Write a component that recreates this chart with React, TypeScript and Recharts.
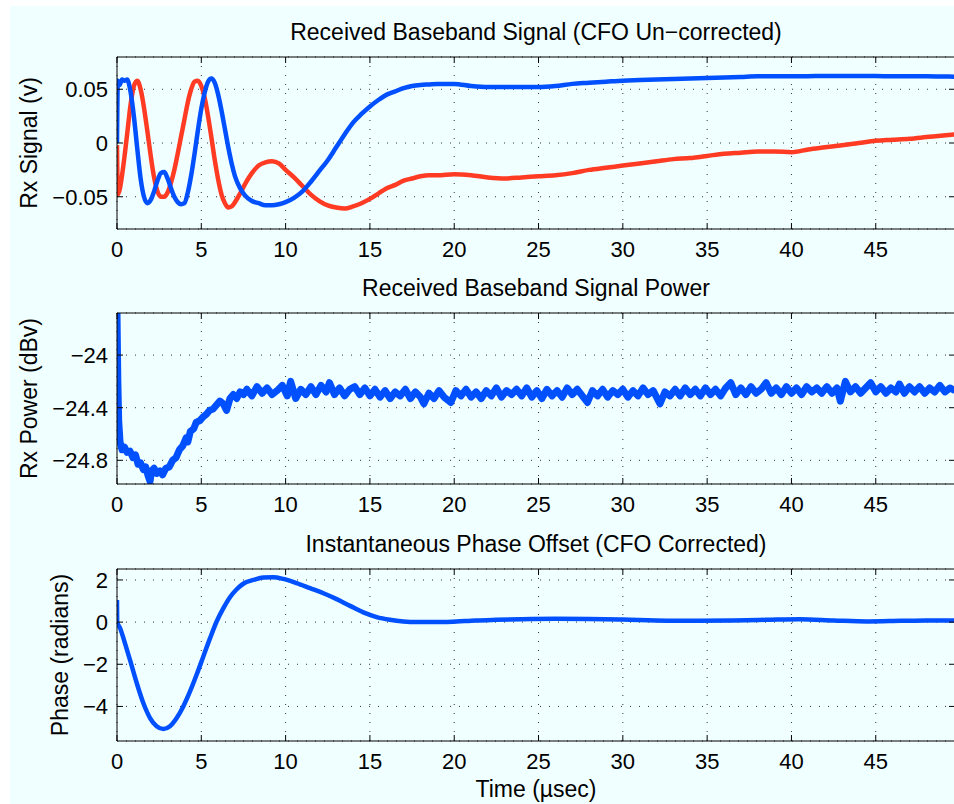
import React from 'react';
import { LineChart, Line, XAxis, YAxis, CartesianGrid, Label } from 'recharts';

const FONT = "'Liberation Sans', Arial, Helvetica, sans-serif";
const BLUE = '#0050ff';
const RED = '#ff3b24';
const BG = '#f0ffff';

// shared time axis (usec)
const timeTicks = [0, 5, 10, 15, 20, 25, 30, 35, 40, 45];
const timeDomain = [0, 49.7];

// Panel 1: received baseband signal (I = red, Q = blue)
const sigTime = [
  0, 0.05, 0.15, 0.3, 0.45, 0.6, 0.8, 1.0, 1.2, 1.4,
  1.6, 1.8, 2.0, 2.2, 2.4, 2.6, 2.8, 3.0, 3.2, 3.4,
  3.6, 3.8, 4.0, 4.2, 4.4, 4.6, 4.8, 5.0, 5.2, 5.4,
  5.6, 5.8, 6.0, 6.2, 6.4, 6.6, 6.8, 7.0, 7.3, 7.6,
  8.0, 8.4, 8.8, 9.2, 9.6, 10.0, 10.5, 11.0, 11.5, 12.0,
  12.5, 13.0, 13.5, 14.0, 14.5, 15.0, 15.5, 16.0, 16.5, 17.0,
  17.5, 18.0, 18.5, 19.0, 20, 21, 22, 23, 24, 25,
  26, 27, 28, 29, 30, 31, 32, 33, 34, 35,
  36, 37, 38, 39, 40, 41, 42, 43, 44, 45,
  46, 47, 48, 49, 49.7,
];
const sigInPhase = [
  -0.002, -0.048, -0.044, -0.030, -0.012, 0.008, 0.035, 0.053, 0.058, 0.050,
  0.033, 0.011, -0.012, -0.032, -0.045, -0.050, -0.050, -0.046, -0.037, -0.025,
  -0.010, 0.006, 0.022, 0.038, 0.050, 0.057, 0.058, 0.053, 0.042, 0.025,
  0.005, -0.016, -0.034, -0.048, -0.056, -0.060, -0.059, -0.055, -0.047, -0.038,
  -0.028, -0.021, -0.018, -0.017, -0.019, -0.025, -0.032, -0.040, -0.048, -0.054,
  -0.058, -0.060, -0.061, -0.059, -0.056, -0.052, -0.047, -0.042, -0.039, -0.035,
  -0.033, -0.031, -0.030, -0.030, -0.029, -0.030, -0.032, -0.033, -0.032, -0.031,
  -0.030, -0.028, -0.025, -0.023, -0.021, -0.019, -0.017, -0.015, -0.014, -0.012,
  -0.010, -0.009, -0.008, -0.008, -0.0085, -0.006, -0.004, -0.002, 0.000, 0.002,
  0.003, 0.004, 0.0055, 0.007, 0.008,
];
const sigQuadrature = [
  0, 0.058, 0.054, 0.059, 0.058, 0.059, 0.048, 0.025, -0.005, -0.033,
  -0.050, -0.056, -0.053, -0.045, -0.035, -0.028, -0.027, -0.033, -0.042, -0.050,
  -0.055, -0.057, -0.056, -0.046, -0.030, -0.010, 0.012, 0.032, 0.047, 0.057,
  0.060, 0.056, 0.045, 0.030, 0.013, -0.004, -0.019, -0.031, -0.042, -0.049,
  -0.054, -0.056, -0.058, -0.058, -0.057, -0.055, -0.051, -0.045, -0.036, -0.026,
  -0.016, -0.004, 0.008, 0.019, 0.027, 0.034, 0.040, 0.045, 0.048, 0.051,
  0.053, 0.054, 0.0545, 0.055, 0.055, 0.053, 0.052, 0.052, 0.052, 0.052,
  0.053, 0.055, 0.056, 0.057, 0.058, 0.0585, 0.059, 0.0595, 0.060, 0.0605,
  0.061, 0.0615, 0.062, 0.062, 0.062, 0.0622, 0.0623, 0.0623, 0.0623, 0.0623,
  0.062, 0.062, 0.062, 0.0618, 0.0617,
];
const sigTicks = [-0.05, 0, 0.05];

// Panel 2: received power (dBv)
const powTime = [
  0, 0.05, 0.1, 0.18, 0.3, 0.45, 0.6, 0.77, 0.95, 1.1,
  1.25, 1.4, 1.56, 1.7, 1.85, 1.96, 2.05, 2.2, 2.35, 2.55,
  2.7, 2.9, 3.1, 3.3, 3.5, 3.7, 3.9, 4.1, 4.2, 4.35,
  4.55, 4.7, 4.9, 5.1, 5.3, 5.5, 5.7, 5.9, 6.1, 6.3,
  6.5, 6.7, 6.9, 7.1, 7.3, 7.5, 7.7, 8.0, 8.3, 8.6,
  8.9, 9.2, 9.5, 9.8, 10.1, 10.3, 10.6, 10.9, 11.2, 11.5,
  11.8, 12.1, 12.4, 12.6, 12.9, 13.2, 13.5, 13.8, 14.1, 14.4,
  14.7, 15.0, 15.3, 15.6, 15.9, 16.2, 16.5, 16.8, 17.1, 17.4,
  17.7, 18.0, 18.2, 18.5, 18.8, 19.1, 19.4, 19.8, 20.1, 20.4,
  20.7, 21.0, 21.3, 21.6, 21.9, 22.2, 22.5, 22.8, 23.1, 23.4,
  23.7, 24.0, 24.3, 24.6, 24.9, 25.2, 25.5, 25.8, 26.1, 26.4,
  26.7, 27.0, 27.3, 27.6, 27.9, 28.2, 28.5, 28.8, 29.1, 29.4,
  29.7, 30.0, 30.3, 30.6, 30.9, 31.2, 31.5, 31.8, 32.2, 32.5,
  32.8, 33.1, 33.4, 33.7, 34.0, 34.3, 34.6, 34.9, 35.2, 35.5,
  35.8, 36.1, 36.4, 36.7, 37.0, 37.3, 37.6, 37.9, 38.2, 38.5,
  38.8, 39.1, 39.4, 39.7, 40.0, 40.3, 40.6, 40.9, 41.2, 41.5,
  41.8, 42.1, 42.4, 42.7, 42.9, 43.2, 43.5, 43.8, 44.1, 44.4,
  44.7, 45.0, 45.3, 45.6, 45.9, 46.2, 46.4, 46.7, 47.0, 47.3,
  47.6, 47.9, 48.2, 48.5, 48.8, 49.1, 49.4, 49.7,
];
const powDbv = [
  -23.68, -24.2, -24.5, -24.66, -24.72, -24.70, -24.74, -24.73, -24.78, -24.76,
  -24.83, -24.82, -24.87, -24.85, -24.92, -24.96, -24.88, -24.86, -24.90, -24.88,
  -24.91, -24.86, -24.85, -24.80, -24.78, -24.72, -24.69, -24.63, -24.66, -24.58,
  -24.56, -24.51, -24.50, -24.47, -24.45, -24.42, -24.41, -24.38, -24.35, -24.37,
  -24.42, -24.33, -24.30, -24.33, -24.28, -24.30, -24.26, -24.31, -24.24, -24.29,
  -24.25, -24.30, -24.27, -24.23, -24.31, -24.20, -24.33, -24.26, -24.30, -24.24,
  -24.30, -24.23, -24.28, -24.21, -24.30, -24.25, -24.31, -24.26, -24.24, -24.30,
  -24.25, -24.31, -24.26, -24.32, -24.27, -24.33, -24.28, -24.31, -24.26, -24.33,
  -24.28, -24.32, -24.37, -24.29, -24.33, -24.27, -24.32, -24.36, -24.27, -24.31,
  -24.26, -24.32, -24.28, -24.33, -24.27, -24.31, -24.25, -24.32, -24.27, -24.30,
  -24.26, -24.31, -24.25, -24.32, -24.27, -24.33, -24.26, -24.31, -24.27, -24.32,
  -24.25, -24.30, -24.26, -24.31, -24.36, -24.27, -24.31, -24.26, -24.32, -24.27,
  -24.30, -24.26, -24.32, -24.27, -24.31, -24.25, -24.30, -24.27, -24.37, -24.28,
  -24.31, -24.26, -24.31, -24.25, -24.30, -24.26, -24.31, -24.25, -24.30, -24.26,
  -24.31, -24.25, -24.21, -24.30, -24.25, -24.30, -24.24, -24.29, -24.26, -24.21,
  -24.29, -24.25, -24.30, -24.24, -24.29, -24.25, -24.30, -24.24, -24.28, -24.25,
  -24.29, -24.24, -24.29, -24.25, -24.35, -24.20, -24.28, -24.24, -24.29, -24.25,
  -24.21, -24.28, -24.24, -24.29, -24.25, -24.28, -24.22, -24.29, -24.24, -24.28,
  -24.24, -24.29, -24.25, -24.28, -24.23, -24.28, -24.25, -24.27,
];
const powTicks = [-24.8, -24.4, -24];

// Panel 3: instantaneous phase offset (radians)
const phTime = [
  0, 0.01, 0.18, 0.47, 0.77, 1.17, 1.56, 1.96, 2.35, 2.75,
  3.14, 3.54, 3.93, 4.33, 4.72, 5.12, 5.52, 5.91, 6.31, 6.70,
  7.10, 7.49, 8.09, 8.68, 9.27, 9.86, 10.65, 11.45, 12.24, 13.03,
  13.82, 14.61, 15.4, 16.19, 16.98, 17.77, 18.56, 19.35, 20.14, 21.3,
  22.5, 24, 26, 28, 30, 32.6, 34.5, 36.56, 38.5, 40.5,
  42.5, 44.5, 46.5, 48, 49.7,
];
const phRad = [
  1.05, 0.0, -0.28, -1.0, -1.79, -2.89, -3.84, -4.55, -4.94, -5.07,
  -4.94, -4.55, -4.0, -3.29, -2.50, -1.63, -0.76, 0.03, 0.66, 1.18,
  1.56, 1.82, 2.0, 2.12, 2.13, 2.05, 1.85, 1.61, 1.37, 1.09,
  0.77, 0.46, 0.24, 0.11, 0.03, 0.0, 0.0, 0.0, 0.03, 0.08,
  0.11, 0.14, 0.16, 0.15, 0.12, 0.07, 0.07, 0.08, 0.11, 0.14,
  0.08, 0.03, 0.06, 0.08, 0.08,
];
const phTicks = [-4, -2, 0, 2];

const sigData = sigTime.map((t, i) => ({ t, re: sigInPhase[i], im: sigQuadrature[i] }));
const powData = powTime.map((t, i) => ({ t, p: powDbv[i] }));
const phData = phTime.map((t, i) => ({ t, ph: phRad[i] }));

const TICK_LEN = 6;
const fmt = (v: number) => (v < 0 ? '\u2212' + String(Math.abs(v)) : String(v));

const BottomTick = ({ x, y, payload }: any) => (
  <g>
    <line x1={x} x2={x} y1={y} y2={y - TICK_LEN} stroke="#000" />
    <text x={x} y={y + 28} textAnchor="middle" fontSize={22} fontFamily={FONT} fill="#000">
      {fmt(payload.value)}
    </text>
  </g>
);
const TopTick = ({ x, y }: any) => <line x1={x} x2={x} y1={y} y2={y + TICK_LEN} stroke="#000" />;
const LeftTick = ({ x, y, payload }: any) => (
  <g>
    <line x1={x} x2={x + TICK_LEN} y1={y} y2={y} stroke="#000" />
    <text x={x - 9} y={y + 8} textAnchor="end" fontSize={22} fontFamily={FONT} fill="#000">
      {fmt(payload.value)}
    </text>
  </g>
);
const RightTick = ({ x, y }: any) => <line x1={x} x2={x - TICK_LEN} y1={y} y2={y} stroke="#000" />;

const CHART_W = 960;
const CHART_H = 804;
const labelStyle = { fontSize: 23, fontFamily: FONT, fill: '#000' };

interface PanelProps {
  data: any[];
  plotTop: number;
  plotBottom: number;
  yDomain: number[];
  yTicks: number[];
  title: string;
  yLabel: string;
  yLabelX: number;
  xLabel?: string;
  children: React.ReactNode;
}

const Panel = ({ data, plotTop, plotBottom, yDomain, yTicks, title, yLabel, yLabelX, xLabel, children }: PanelProps) => (
  <div style={{ position: 'absolute', left: 0, top: 0 }}>
    <LineChart
      width={CHART_W}
      height={CHART_H}
      data={data}
      margin={{ top: plotTop - 1, bottom: CHART_H - plotBottom - 1, left: 116, right: 4 }}
    >
      <CartesianGrid stroke="#333" strokeDasharray="1 8" strokeWidth={1} />
      <XAxis
        dataKey="t"
        type="number"
        domain={timeDomain}
        ticks={timeTicks}
        allowDataOverflow
        interval={0}
        height={1}
        tickSize={0}
        tickMargin={0}
        tickLine={false}
        axisLine={{ stroke: '#000' }}
        tick={(p: any) => <BottomTick {...p} />}
      >
        {xLabel ? <Label value={xLabel} position="center" dy={47} {...labelStyle} /> : null}
      </XAxis>
      <XAxis
        xAxisId="top"
        orientation="top"
        dataKey="t"
        type="number"
        domain={timeDomain}
        ticks={timeTicks}
        allowDataOverflow
        interval={0}
        height={1}
        tickSize={0}
        tickMargin={0}
        tickLine={false}
        axisLine={{ stroke: '#000' }}
        tick={(p: any) => <TopTick {...p} />}
      >
        <Label value={title} position="center" dy={-25} {...labelStyle} />
      </XAxis>
      <YAxis
        type="number"
        domain={yDomain}
        ticks={yTicks}
        allowDataOverflow
        interval={0}
        width={1}
        tickSize={0}
        tickMargin={0}
        tickLine={false}
        axisLine={{ stroke: '#000' }}
        tick={(p: any) => <LeftTick {...p} />}
      >
        <Label value={yLabel} angle={-90} position="center" dx={yLabelX - 116.5} {...labelStyle} />
      </YAxis>
      <YAxis
        yAxisId="right"
        orientation="right"
        type="number"
        domain={yDomain}
        ticks={yTicks}
        allowDataOverflow
        interval={0}
        width={1}
        tickSize={0}
        tickMargin={0}
        tickLine={false}
        axisLine={{ stroke: '#000' }}
        tick={(p: any) => <RightTick {...p} />}
      />
      {children}
    </LineChart>
  </div>
);

export default function App() {
  return (
    <div
      style={{
        position: 'absolute',
        left: 0,
        top: 0,
        width: 954,
        height: 804,
        overflow: 'hidden',
        background: '#fff',
      }}
    >
      <div style={{ position: 'absolute', left: 10, top: 6, width: 944, height: 798, background: BG }} />
      <Panel
        data={sigData}
        plotTop={57}
        plotBottom={229}
        yDomain={[-0.08, 0.08]}
        yTicks={sigTicks}
        title={'Received Baseband Signal (CFO Un\u2212corrected)'}
        yLabel="Rx Signal (v)"
        yLabelX={29}
      >
        <Line dataKey="re" type="monotone" stroke={RED} strokeWidth={4.5} dot={false} isAnimationActive={false} />
        <Line dataKey="im" type="monotone" stroke={BLUE} strokeWidth={4.5} dot={false} isAnimationActive={false} />
      </Panel>
      <Panel
        data={powData}
        plotTop={313}
        plotBottom={484}
        yDomain={[-24.98, -23.68]}
        yTicks={powTicks}
        title="Received Baseband Signal Power"
        yLabel="Rx Power (dBv)"
        yLabelX={29}
      >
        <Line dataKey="p" type="linear" stroke={BLUE} strokeWidth={7} strokeLinejoin="round" dot={false} isAnimationActive={false} />
      </Panel>
      <Panel
        data={phData}
        plotTop={569}
        plotBottom={741}
        yDomain={[-5.64, 2.52]}
        yTicks={phTicks}
        title="Instantaneous Phase Offset (CFO Corrected)"
        yLabel="Phase (radians)"
        yLabelX={60}
        xLabel={'Time (\u00b5sec)'}
      >
        <Line dataKey="ph" type="monotone" stroke={BLUE} strokeWidth={4.5} dot={false} isAnimationActive={false} />
      </Panel>
    </div>
  );
}
